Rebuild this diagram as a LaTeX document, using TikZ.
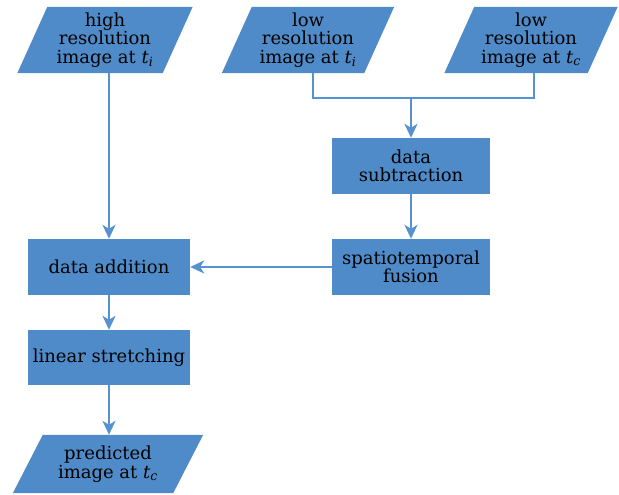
\documentclass[tikz,border=0pt]{standalone}
\usepackage{fontspec}
\setmainfont{DejaVu Serif}
\usetikzlibrary{arrows.meta,calc,backgrounds}
\definecolor{boxblue}{RGB}{79,139,200}
\definecolor{lineblue}{RGB}{86,146,207}
\newcommand{\tsub}[2]{\textit{#1}\textsubscript{\textit{#2}}}
\begin{document}
\begin{tikzpicture}[x=1pt,y=-1pt,
  txt/.style={font=\fontsize{18}{18.5}\selectfont, align=center, inner sep=0pt, text=black},
  procbox/.style={txt, fill=boxblue, minimum width=#1, minimum height=56},
  parabox/.style={txt, minimum width=#1, minimum height=66},
  conn/.style={draw=lineblue, line width=2pt},
  arr/.style={conn, -{Stealth[length=14pt,width=13pt,inset=4pt]}}]
\useasboundingbox (0,0) rectangle (619,495);
% inputs
\node[parabox=145] (p1) at (105,40) {high\\resolution\\image at \tsub{t}{i}};
\node[parabox=142] (p2) at (308,40) {low\\resolution\\image at \tsub{t}{i}};
\node[parabox=143] (p3) at (531,40) {low\\resolution\\image at \tsub{t}{c}};
% process boxes
\node[procbox=158] (sub) at (411,166) {data\\subtraction};
\node[procbox=158] (fus) at (411,267) {spatiotemporal\\fusion};
\node[procbox=162] (add) at (109,267) {data addition};
\node[procbox=162, minimum height=55] (lin) at (109,357.5) {linear stretching};
% output
\node[txt, minimum width=160, minimum height=58] (p4) at (108,464) {predicted\\image at \tsub{t}{c}};
\begin{scope}[on background layer]
\foreach \n/\s in {p1/15,p2/15,p3/15,p4/15}
  \fill[boxblue] ($(\n.south west)+(-\s,0)$) -- ($(\n.south east)+(-\s,0)$)
     -- ($(\n.north east)+(\s,0)$) -- ($(\n.north west)+(\s,0)$) -- cycle;
\end{scope}
% connectors
\coordinate (j) at (411,98);
\draw[conn] ([xshift=5pt]p2.south) |- (j) -| ([xshift=3pt]p3.south);
\draw[arr] (j) -- (sub.north);
\draw[arr] (sub.south) -- (fus.north);
\draw[arr] (p1.south -| add.north) -- (add.north);
\draw[arr] (fus.west) -- (add.east);
\draw[arr] (add.south) -- (lin.north);
\draw[arr] (lin.south) -- (lin.south |- p4.north);
\end{tikzpicture}
\end{document}
